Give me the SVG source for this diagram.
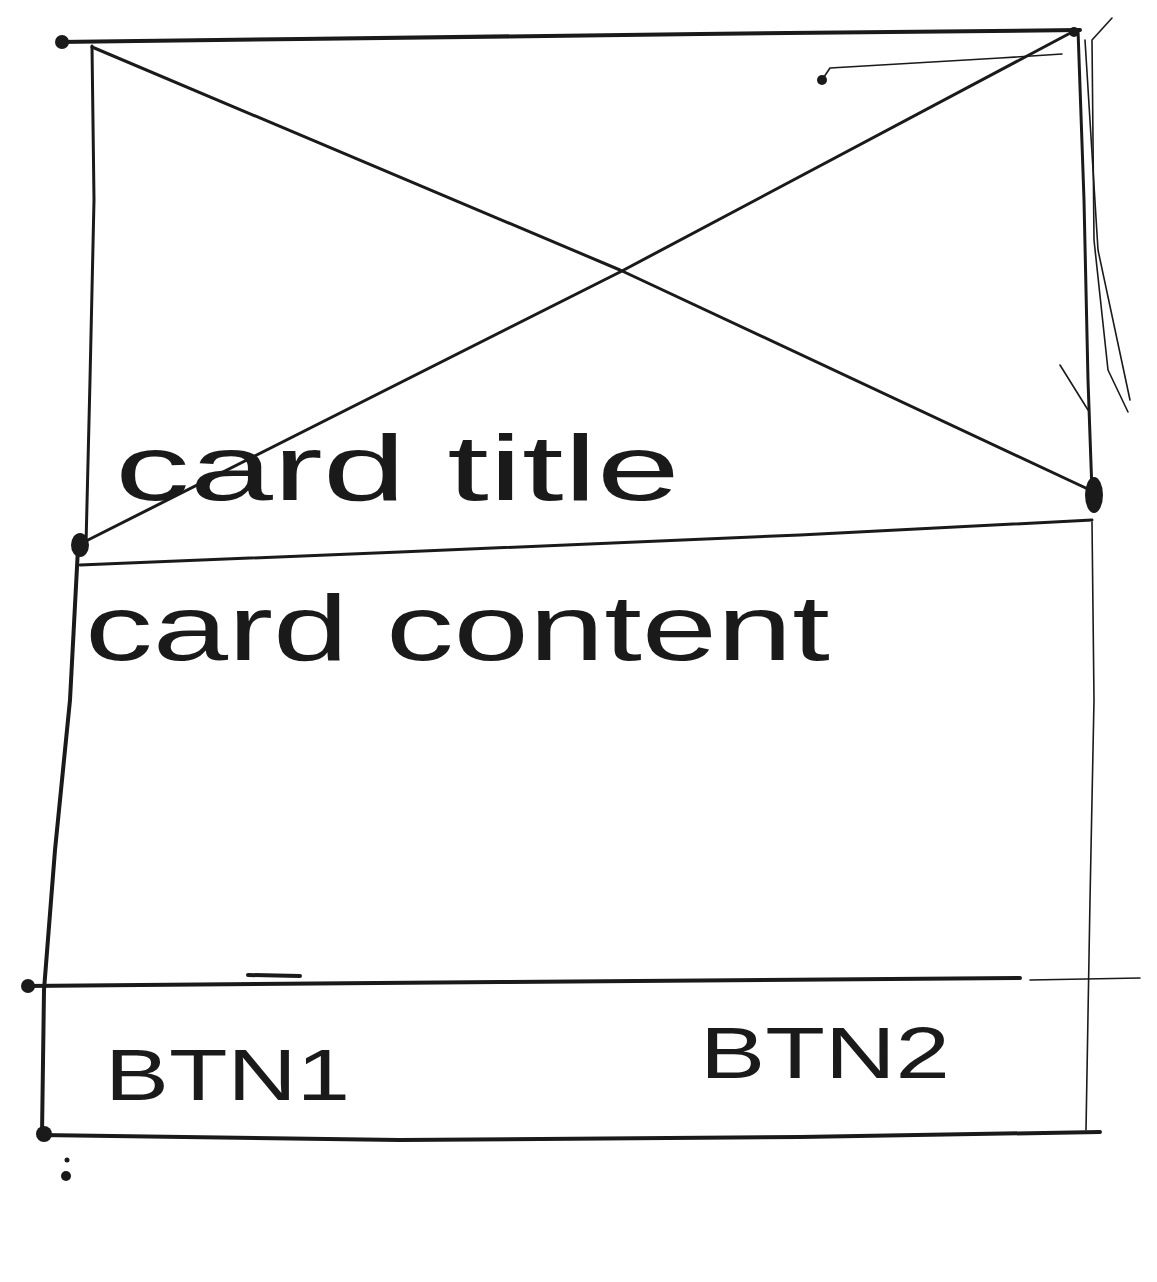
<svg xmlns="http://www.w3.org/2000/svg" width="1157" height="1282" viewBox="0 0 1157 1282">
<style>
.ink{fill:none;stroke:#1a1a1a;stroke-linecap:round;stroke-linejoin:round}
.t{stroke-width:3}
.m{stroke-width:4}
.h{stroke-width:1.6}
.lbl{font-family:"Liberation Sans",Arial,sans-serif;fill:#1a1a1a;font-weight:normal}
.dot{fill:#1a1a1a}
</style>
<rect width="1157" height="1282" fill="#ffffff"/>
<g id="image-placeholder">
<path class="ink m" d="M58 42 L300 39 L700 34 L1080 30"/>
<path class="ink t" d="M92 46 L94 200 L90 380 L86 545"/>
<path class="ink t" d="M1078 30 L1084 200 L1088 380 L1092 492"/>
<path class="ink t" d="M92 47 L620 270 L1090 490"/>
<path class="ink t" d="M1076 30 L620 272 L88 540"/>
<path class="ink h" d="M1112 18 L1092 40 L1094 240 L1108 370 L1128 412"/>
<path class="ink h" d="M1085 40 L1098 250 L1130 400"/>
<path class="ink h" d="M822 80 L830 68 L1000 58 L1062 54"/>
<path class="ink h" d="M1060 365 L1088 410"/>
<circle class="dot" cx="822" cy="80" r="5"/>
<circle class="dot" cx="62" cy="42" r="7"/>
<circle class="dot" cx="1074" cy="32" r="5"/>
<ellipse class="dot" cx="1094" cy="495" rx="9" ry="18"/>
<ellipse class="dot" cx="80" cy="545" rx="9" ry="12"/>
</g>
<g id="card-body">
<path class="ink t" d="M80 565 L400 552 L800 535 L1092 520"/>
<path class="ink m" d="M78 548 L70 700 L55 850 L44 990 L42 1135"/>
<path class="ink h" d="M1092 522 L1094 700 L1090 900 L1086 1130"/>
<path class="ink m" d="M25 986 L500 982 L1020 978"/>
<path class="ink m" d="M248 975 L300 976"/>
<path class="ink h" d="M1030 980 L1140 978"/>
<path class="ink m" d="M40 1135 L400 1140 L800 1137 L1100 1132"/>
<circle class="dot" cx="28" cy="986" r="7"/>
<circle class="dot" cx="44" cy="1134" r="8"/>
<circle class="dot" cx="66" cy="1176" r="5"/>
<circle class="dot" cx="67" cy="1160" r="2.5"/>
</g>
<g id="texts">
<text class="lbl" x="115" y="500" font-size="92" textLength="565" lengthAdjust="spacingAndGlyphs">card title</text>
<text class="lbl" x="85" y="660" font-size="92" textLength="745" lengthAdjust="spacingAndGlyphs">card content</text>
<text class="lbl" x="105" y="1100" font-size="72" textLength="245" lengthAdjust="spacingAndGlyphs">BTN1</text>
<text class="lbl" x="700" y="1078" font-size="72" textLength="250" lengthAdjust="spacingAndGlyphs">BTN2</text>
</g>
</svg>
